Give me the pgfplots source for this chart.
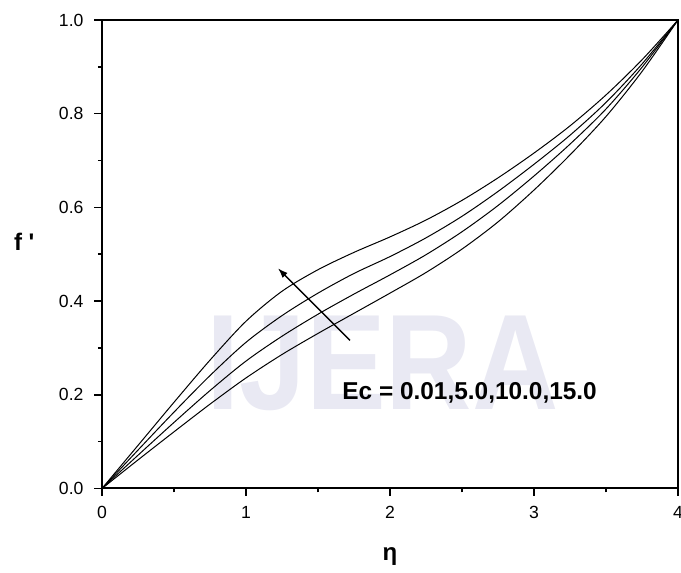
\documentclass[border=0pt]{standalone}
\usepackage{fontspec}
\setmainfont{Liberation Sans}
\usepackage{pgfplots}
\pgfplotsset{compat=1.18}
\usetikzlibrary{arrows.meta,calc}

% velocity profiles f'(eta) for four Eckert numbers (bottom to top)
\pgfplotstableread{
x     y
0.00  0.000
0.25  0.061
0.50  0.121
0.75  0.180
1.00  0.236
1.25  0.286
1.50  0.331
1.75  0.374
2.00  0.417
2.25  0.461
2.50  0.511
2.75  0.569
3.00  0.637
3.25  0.712
3.50  0.794
3.75  0.890
4.00  1.000
}\ecA
\pgfplotstableread{
x     y
0.00  0.000
0.25  0.071
0.50  0.141
0.75  0.209
1.00  0.272
1.25  0.325
1.50  0.372
1.75  0.415
2.00  0.456
2.25  0.499
2.50  0.548
2.75  0.604
3.00  0.667
3.25  0.735
3.50  0.810
3.75  0.899
4.00  1.000
}\ecB
\pgfplotstableread{
x     y
0.00  0.000
0.25  0.082
0.50  0.163
0.75  0.241
1.00  0.312
1.25  0.369
1.50  0.417
1.75  0.459
2.00  0.495
2.25  0.535
2.50  0.581
2.75  0.634
3.00  0.692
3.25  0.754
3.50  0.824
3.75  0.906
4.00  1.000
}\ecC
\pgfplotstableread{
x     y
0.00  0.000
0.25  0.092
0.50  0.184
0.75  0.274
1.00  0.357
1.25  0.421
1.50  0.467
1.75  0.504
2.00  0.537
2.25  0.573
2.50  0.615
2.75  0.663
3.00  0.716
3.25  0.774
3.50  0.840
3.75  0.915
4.00  1.000
}\ecD

\definecolor{wmark}{RGB}{233,233,243}

\begin{document}
\begin{tikzpicture}
\begin{axis}[
  name=ax, at={(0,0)}, anchor=south west,
  scale only axis, width=288pt, height=234.25pt,
  xmin=0, xmax=4, ymin=0, ymax=1,
  xtick={0,1,2,3,4}, minor x tick num=1,
  ytick={0,0.2,0.4,0.6,0.8,1.0}, minor y tick num=1,
  tick align=outside, tick pos=left,
  major tick length=3.75pt, minor tick length=2pt,
  axis line style={line width=1pt},
  every tick/.style={black, line width=0.8pt},
  /pgf/number format/assume math mode=true,
  ticklabel style={font=\fontsize{8.8}{10}\selectfont},
  xticklabel style={anchor=center, yshift=-8pt},
  yticklabel style={anchor=east, xshift=-2pt,
    /pgf/number format/fixed, /pgf/number format/fixed zerofill,
    /pgf/number format/precision=1},
  clip=false,
]
% faint journal watermark behind the curves
\node[anchor=base west, inner sep=0, text=wmark, xscale=0.88,
      font=\bfseries\fontsize{68}{70}\selectfont]
  at (axis cs:0.722,0.168) {IJERA};

\addplot[black, line width=0.5pt, smooth] table {\ecA};
\addplot[black, line width=0.5pt, smooth] table {\ecB};
\addplot[black, line width=0.5pt, smooth] table {\ecC};
\addplot[black, line width=0.5pt, smooth] table {\ecD};

\draw[line width=0.7pt, -{Latex[length=5pt,width=3.5pt]}]
  (axis cs:1.722,0.316) -- (axis cs:1.222,0.470);

\node[anchor=base west, inner sep=0, font=\bfseries\fontsize{12.2}{14}\selectfont]
  at (axis cs:1.667,0.191) {Ec = 0.01,5.0,10.0,15.0};

\node[font=\bfseries\fontsize{12}{14}\selectfont]
  at (axis description cs:-0.135,0.526) {f \textquotesingle};
\node[font=\bfseries\fontsize{12}{14}\selectfont]
  at (axis description cs:0.5,-0.146) {η};
\end{axis}
\pgfresetboundingbox
\path[use as bounding box] ($(ax.south west)+(-51pt,-42.25pt)$)
  rectangle ($(ax.south west)+(289.5pt,244.25pt)$);
\end{tikzpicture}
\end{document}
